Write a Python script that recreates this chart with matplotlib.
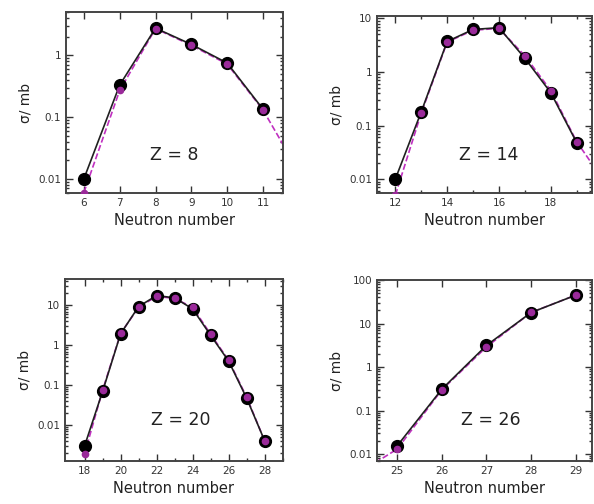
import matplotlib
matplotlib.use("Agg")
import matplotlib.pyplot as plt
from matplotlib.ticker import FixedLocator, LogLocator, NullFormatter, FixedFormatter

# ---- data ----
n_z8 = [6, 7, 8, 9, 10, 11]
s_z8 = [0.010, 0.33, 2.75, 1.5, 0.75, 0.134]
mn_z8 = [6, 7, 8, 9, 10, 11, 12]
ms_z8 = [0.006, 0.27, 2.7, 1.45, 0.72, 0.13, 0.013]

n_z14 = [12, 13, 14, 15, 16, 17, 18, 19]
s_z14 = [0.010, 0.18, 3.7, 6.2, 6.7, 1.8, 0.41, 0.048]
mn_z14 = [11, 12, 13, 14, 15, 16, 17, 18, 19, 20]
ms_z14 = [0.0002, 0.005, 0.17, 3.6, 6.0, 6.5, 2.0, 0.45, 0.05, 0.01]

n_z20 = [18, 19, 20, 21, 22, 23, 24, 25, 26, 27, 28]
s_z20 = [0.003, 0.07, 1.95, 9.4, 17.8, 15.5, 8.2, 1.78, 0.40, 0.047, 0.004]
mn_z20 = [18, 19, 20, 21, 22, 23, 24, 25, 26, 27, 28]
ms_z20 = [0.0019, 0.075, 2.0, 9.0, 17.0, 15.0, 9.0, 1.9, 0.42, 0.05, 0.004]

n_z26 = [25, 26, 27, 28, 29]
s_z26 = [0.0155, 0.31, 3.15, 17.9, 45]
mn_z26 = [24, 25, 26, 27, 28, 29]
ms_z26 = [0.003, 0.013, 0.30, 2.9, 18, 45]

panels = [
    dict(n=n_z8, s=s_z8, mn=mn_z8, ms=ms_z8, label="Z = 8",
         xlim=(5.5, 11.55), ylim=(0.0059, 5.0), xticks=[6, 7, 8, 9, 10, 11],
         yticks=[0.01, 0.1, 1], ylabels=["0.01", "0.1", "1"],
         pos=[0.111, 0.617, 0.365, 0.359], zpos=(0.50, 0.21)),
    dict(n=n_z14, s=s_z14, mn=mn_z14, ms=ms_z14, label="Z = 14",
         xlim=(11.3, 19.6), ylim=(0.0055, 11.0), xticks=[12, 14, 16, 18],
         yticks=[0.01, 0.1, 1, 10], ylabels=["0.01", "0.1", "1", "10"],
         pos=[0.635, 0.617, 0.362, 0.351], zpos=(0.52, 0.215)),
    dict(n=n_z20, s=s_z20, mn=mn_z20, ms=ms_z20, label="Z = 20",
         xlim=(16.9, 29.0), ylim=(0.00126, 46), xticks=[18, 20, 22, 24, 26, 28],
         yticks=[0.01, 0.1, 1, 10], ylabels=["0.01", "0.1", "1", "10"],
         pos=[0.109, 0.0853, 0.367, 0.361], zpos=(0.53, 0.225)),
    dict(n=n_z26, s=s_z26, mn=mn_z26, ms=ms_z26, label="Z = 26",
         xlim=(24.55, 29.37), ylim=(0.0069, 100), xticks=[25, 26, 27, 28, 29],
         yticks=[0.01, 0.1, 1, 10, 100], ylabels=["0.01", "0.1", "1", "10", "100"],
         pos=[0.635, 0.0853, 0.362, 0.359], zpos=(0.53, 0.225)),
]

fig = plt.figure(figsize=(5.94, 5.04), dpi=100)
pink = "#c030c0"

for p in panels:
    ax = fig.add_axes(p["pos"])
    ax.set_yscale("log")
    ax.plot(p["mn"], p["ms"], ls="--", color=pink, lw=1.2, zorder=2, clip_on=True)
    ax.plot(p["n"], p["s"], ls="-", color="#202020", lw=1.2, marker="o",
            markersize=8.5, markerfacecolor="black", markeredgecolor="black",
            zorder=3)
    ax.plot(p["mn"], p["ms"], ls="none", marker="o", markersize=4.5,
            color="#9a2a9a", zorder=4, clip_on=True)
    ax.set_xlim(*p["xlim"])
    ax.set_ylim(*p["ylim"])
    ax.xaxis.set_major_locator(FixedLocator(p["xticks"]))
    ax.xaxis.set_minor_locator(FixedLocator(
        [x + 0.5 * (p["xticks"][1] - p["xticks"][0]) for x in p["xticks"]]
        if p["xticks"][1] - p["xticks"][0] > 1 else []))
    ax.yaxis.set_major_locator(FixedLocator(p["yticks"]))
    ax.yaxis.set_major_formatter(FixedFormatter(p["ylabels"]))
    ax.yaxis.set_minor_locator(LogLocator(base=10, subs=range(2, 10), numticks=20))
    ax.yaxis.set_minor_formatter(NullFormatter())
    ax.tick_params(which="both", direction="in", top=True, right=True,
                   labelsize=7.5, colors="#333333", width=1.0)
    ax.tick_params(which="major", length=5)
    ax.tick_params(which="minor", length=2.5)
    for sp in ax.spines.values():
        sp.set_linewidth(1.4)
        sp.set_color("#444444")
    ax.set_xlabel("Neutron number", fontsize=10.5, color="#222222", labelpad=4)
    ax.set_ylabel("σ/ mb", fontsize=10, color="#222222", labelpad=4)
    ax.text(p["zpos"][0], p["zpos"][1], p["label"], transform=ax.transAxes,
            fontsize=12.5, ha="center", va="center", color="#222222")

fig.savefig("out.png", dpi=100)
